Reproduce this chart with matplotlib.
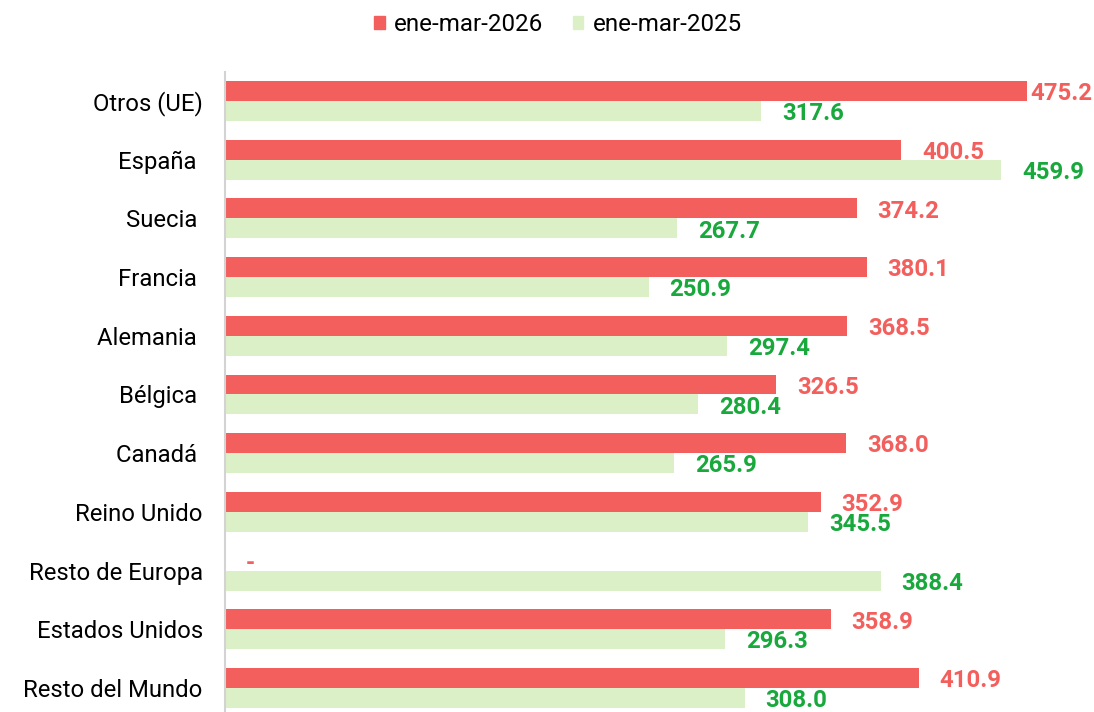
import numpy as np
import matplotlib
matplotlib.use("Agg")
import matplotlib.pyplot as plt
from matplotlib.patches import Patch

plt.rcParams['font.family'] = ['Roboto', 'DejaVu Sans']

# Data
categories = ['Otros (UE)', 'España ', 'Suecia ', 'Francia ', 'Alemania ', 'Bélgica ',
              'Canadá ', 'Reino Unido', 'Resto de Europa', 'Estados Unidos', 'Resto del Mundo']
v2026 = [475.2, 400.5, 374.2, 380.1, 368.5, 326.5, 368.0, 352.9, np.nan, 358.9, 410.9]
v2025 = [317.6, 459.9, 267.7, 250.9, 297.4, 280.4, 265.9, 345.5, 388.4, 296.3, 308.0]
series_names = ['ene-mar-2026', 'ene-mar-2025']

red = '#f25f5c'
light = '#dcf0c8'
green = '#18a83c'

fig = plt.figure(figsize=(10.94, 7.12), dpi=100)
ax = fig.add_axes([225/1094, 0, 844/1094, 640/712])

y = np.arange(len(categories))
h = 0.34
ax.barh(y - h/2, np.nan_to_num(v2026), height=h, color=red)
ax.barh(y + h/2, v2025, height=h, color=light)

ax.set_xlim(0, 500)
ax.set_ylim(10.41, -0.494)
ax.set_yticks(y)
ax.set_yticklabels(categories, fontsize=17.2)
ax.tick_params(axis='y', length=0, pad=16)
ax.set_xticks([])
for s in ['top', 'right', 'bottom']:
    ax.spines[s].set_visible(False)
ax.spines['left'].set_color('#d3d3d3')
ax.spines['left'].set_linewidth(1.5)

# Value labels (the 2026/2025 labels for Reino Unido overlap in the original too)
for i in range(len(categories)):
    for val, off, col in [(v2026[i], -h/2, red), (v2025[i], h/2, green)]:
        txt = '-' if np.isnan(val) else f'{val:.1f}'
        x = 0 if np.isnan(val) else val
        dx = 2.5 if x > 470 else 15
        ax.annotate(txt, (x, i + off), xytext=(dx, -2), textcoords='offset points',
                    ha='left', va='center', fontsize=17.2, fontweight='bold', color=col,
                    annotation_clip=False)

handles = [Patch(color=red), Patch(color=light)]
fig.legend(handles, series_names, loc='upper center', bbox_to_anchor=(0.510, 1.012),
           ncol=2, frameon=False, fontsize=17.4, handlelength=0.45, handleheight=0.45,
           handletextpad=0.4, columnspacing=1.2)

fig.savefig('out.png', dpi=100)
